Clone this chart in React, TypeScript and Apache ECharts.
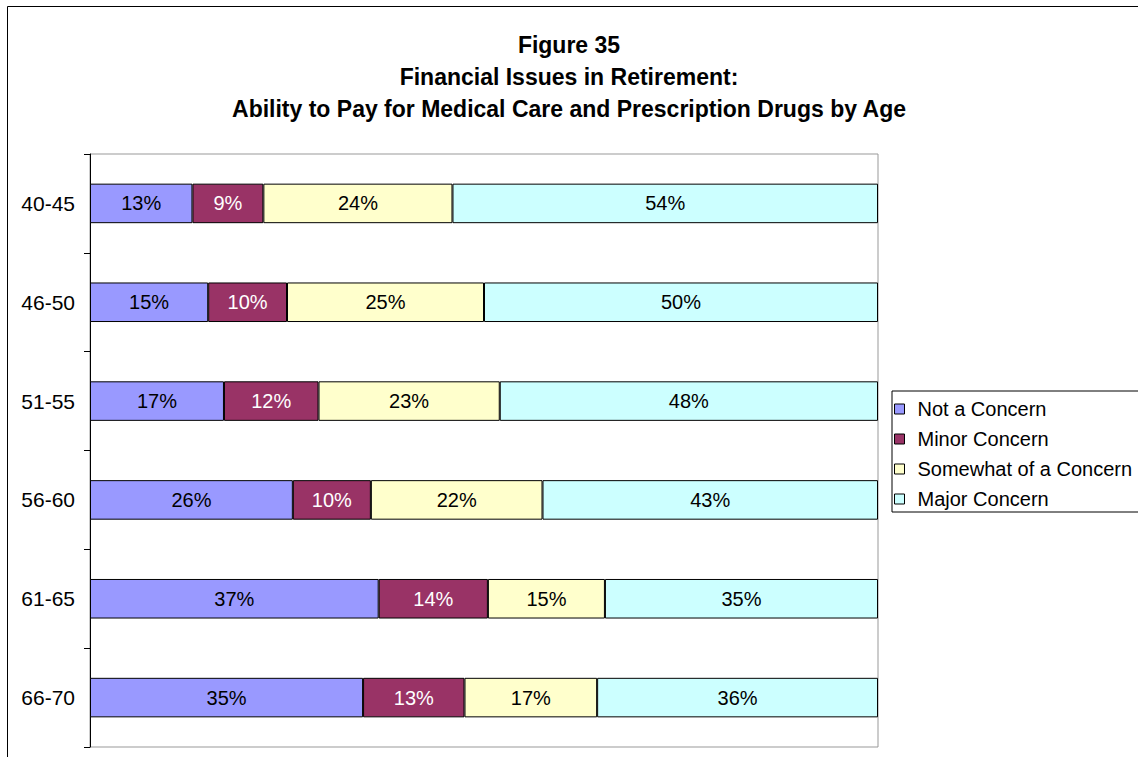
import React, { useEffect, useRef } from "react";
import * as echarts from "echarts";

const categories = ["40-45", "46-50", "51-55", "56-60", "61-65", "66-70"];
const notConcern = [13, 15, 17, 26, 37, 35];
const minorConcern = [9, 10, 12, 10, 14, 13];
const somewhatConcern = [24, 25, 23, 22, 15, 17];
const majorConcern = [54, 50, 48, 43, 35, 36];
const seriesNames = ["Not a Concern", "Minor Concern", "Somewhat of a Concern", "Major Concern"];
const seriesColors = ["#9999FF", "#993366", "#FFFFCC", "#CCFFFF"];
const labelColors = ["#000", "#fff", "#000", "#000"];
const titleLines = [
  "Figure 35",
  "Financial Issues in Retirement:",
  "Ability to Pay for Medical Care and Prescription Drugs by Age",
];

const FONT = "'Liberation Sans', Arial, sans-serif";

export default function App() {
  const ref = useRef<HTMLDivElement>(null);
  useEffect(() => {
    if (!ref.current) return;
    const chart = echarts.init(ref.current, undefined, { renderer: "svg" });
    const raw = [notConcern, minorConcern, somewhatConcern, majorConcern];
    const sums = categories.map((_, i) => raw.reduce((s, arr) => s + arr[i], 0));
    chart.setOption({
      animation: false,
      backgroundColor: "#fff",
      textStyle: { fontFamily: FONT },
      title: {
        text: titleLines.join("\n"),
        left: "center",
        top: 24,
        textStyle: { fontFamily: FONT, fontSize: 23, fontWeight: "bold", color: "#000", lineHeight: 32 },
      },
      graphic: [
        {
          type: "rect",
          shape: { x: 7.5, y: 6.5, width: 1300, height: 900 },
          style: { fill: "none", stroke: "#000", lineWidth: 1 },
          silent: true,
          z: -10,
        },
      ],
      legend: {
        orient: "vertical",
        left: 892,
        top: 391,
        padding: [8, 12, 3, 2],
        itemGap: 10,
        itemWidth: 10,
        itemHeight: 10,
        icon: "rect",
        borderColor: "#000",
        borderWidth: 1,
        textStyle: { fontFamily: FONT, fontSize: 20, lineHeight: 20, color: "#000", padding: [0, 0, 0, 8] },
        itemStyle: { borderColor: "#000", borderWidth: 1 },
        data: seriesNames,
      },
      grid: {
        left: 90,
        top: 154,
        width: 788,
        height: 593,
        show: true,
        borderColor: "#999",
        borderWidth: 1,
        backgroundColor: "transparent",
      },
      xAxis: {
        type: "value",
        min: 0,
        max: 100,
        show: false,
      },
      yAxis: {
        type: "category",
        data: categories,
        inverse: true,
        axisLine: { show: true, lineStyle: { color: "#000", width: 1 } },
        axisTick: { show: true, length: 6, lineStyle: { color: "#000" } },
        axisLabel: { fontFamily: FONT, fontSize: 21, color: "#000", margin: 15 },
        splitLine: { show: false },
      },
      series: raw.map((arr, k) => ({
        name: seriesNames[k],
        type: "bar",
        stack: "total",
        barWidth: "40%",
        itemStyle: { color: seriesColors[k], borderColor: "#000", borderWidth: 1 },
        label: {
          show: true,
          position: "inside",
          fontFamily: FONT,
          fontSize: 20,
          color: labelColors[k],
          formatter: (p: any) => `${arr[p.dataIndex]}%`,
        },
        data: arr.map((v, i) => (v / sums[i]) * 100),
      })),
    });
    return () => chart.dispose();
  }, []);
  return (
    <div
      ref={ref}
      style={{ position: "fixed", left: 0, top: 0, width: 1138, height: 757 }}
    />
  );
}
